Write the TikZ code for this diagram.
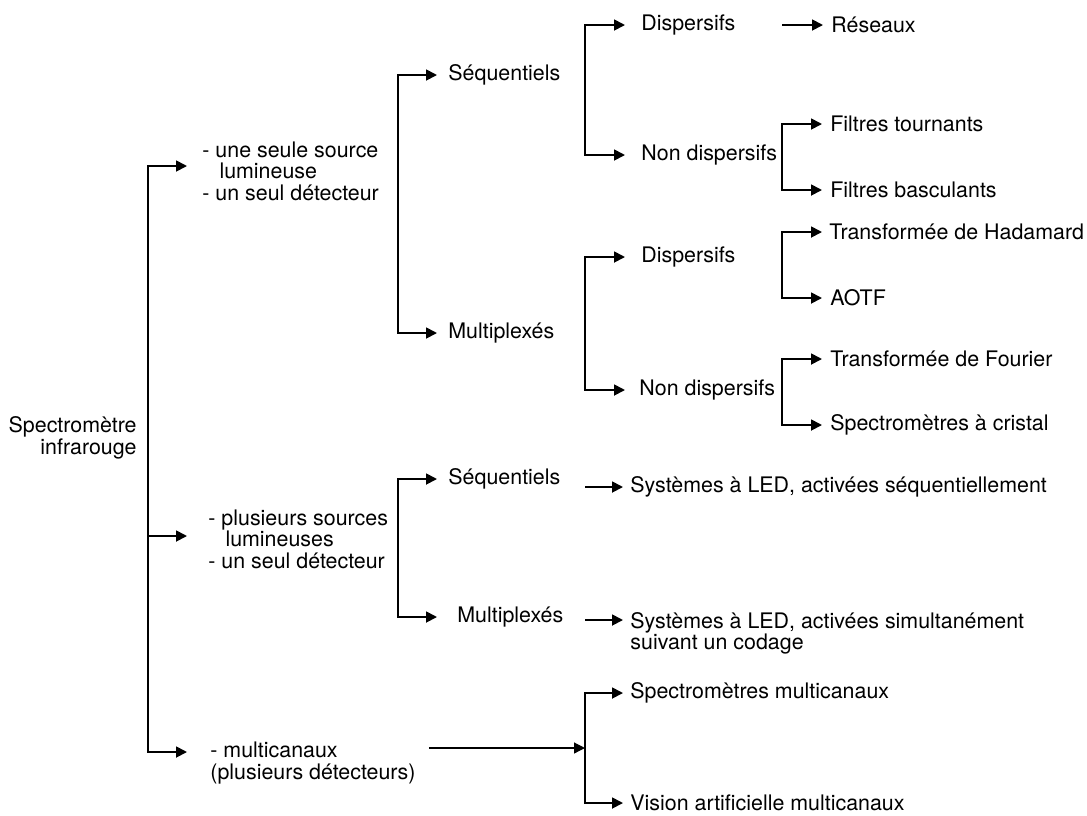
\documentclass[tikz,border=0pt]{standalone}
\usepackage{fontspec}
\setmainfont{TeX Gyre Heros}
\usetikzlibrary{arrows.meta}

\begin{document}
\begin{tikzpicture}[
    x=0.5pt, y=-0.5pt,
    entry/.style={
        anchor=west, inner xsep=#1, inner ysep=0pt,
        align=left, font=\fontsize{10.7}{10.7}\selectfont
    },
    entry/.default=4pt,
    arr/.style={-{Triangle[length=5.5pt, width=5.5pt]}, line width=0.9pt},
    thinarr/.style={arr, line width=0.6pt}
]
\useasboundingbox (0,0) rectangle (1087,815);

%% Root
\node[entry=0pt, anchor=east, align=right] (root) at (137,438)
    {Spectromètre\\infrarouge};
\coordinate (bRoot) at (148,438);

%% First level
\node[entry=7.5pt] (src1) at (187,171)
    {- une seule source\\\hspace*{0.8em}lumineuse\\- un seul détecteur};
\node[entry=10.5pt] (src2) at (187,539)
    {- plusieurs sources\\\hspace*{0.8em}lumineuses\\- un seul détecteur};
\node[entry=11.5pt] (multi) at (187,763)
    {- multicanaux\\(plusieurs détecteurs)};

\draw[arr] (bRoot) |- ([yshift=2.5pt]src1.west);
\draw[arr] (bRoot) |- ([yshift=1.5pt]src2.west);
\draw[arr] (bRoot) |- ([yshift=5.5pt]multi.west);

%% Second level
\coordinate (bSrc1) at (398,204);
\node[entry=5.5pt] (seq1) at (437,75) {Séquentiels};
\node[entry=5.5pt] (mul1) at (437,333) {Multiplexés};
\draw[arr] (bSrc1) |- (seq1.west);
\draw[arr] (bSrc1) |- (mul1.west);

\coordinate (bSrc2) at (398,548);
\node[entry=5.5pt] (seq2) at (437,479) {Séquentiels};
\node[entry=10pt] (mul2) at (437,617) {Multiplexés};
\draw[arr] (bSrc2) |- (seq2.west);
\draw[arr] (bSrc2) |- (mul2.west);

%% Third level
\coordinate (bSeq1) at (585,90);
\node[entry=8pt] (dis1) at (625,25) {Dispersifs};
\node[entry=8pt] (nd1) at (625,155) {Non dispersifs};
\draw[arr] (bSeq1) |- (dis1.west);
\draw[arr] (bSeq1) |- (nd1.west);

\coordinate (bMul1) at (585,323);
\node[entry=8pt] (dis2) at (625,257) {Dispersifs};
\node[entry=7pt] (nd2) at (625,390) {Non dispersifs};
\draw[arr] (bMul1) |- (dis2.west);
\draw[arr] (bMul1) |- (nd2.west);

%% Fourth level
\coordinate (bRes) at (782,25);
\node[entry] (res) at (823,25) {Réseaux};
\draw[arr] (bRes) -- (res.west);

\coordinate (bNd1) at (782,157);
\node[entry] (ft) at (822,124) {Filtres tournants};
\node[entry] (fb) at (822,190) {Filtres basculants};
\draw[arr] (bNd1) |- (ft.west);
\draw[arr] (bNd1) |- (fb.west);

\coordinate (bDis2) at (782,265);
\node[entry=3.5pt] (th) at (822,232) {Transformée de Hadamard};
\node[entry] (ao) at (822,298) {AOTF};
\draw[arr] (bDis2) |- (th.west);
\draw[arr] (bDis2) |- (ao.west);

\coordinate (bNd2) at (782,392);
\node[entry] (tf) at (822,359) {Transformée de Fourier};
\node[entry] (sc) at (822,425) {Spectromètres à cristal};
\draw[arr] (bNd2) |- (tf.west);
\draw[arr] (bNd2) |- (sc.west);

%% LED systems
\coordinate (bLed1) at (585,487);
\node[entry=3.5pt] (led1) at (623,487)
    {Systèmes à LED, activées séquentiellement};
\draw[arr] (bLed1) -- (led1.west);

\coordinate (bLed2) at (585,620);
\node[entry=3.5pt] (led2) at (623,633.5)
    {Systèmes à LED, activées simultanément\\suivant un codage};
\draw[arr] (bLed2) -- ([yshift=6.75pt]led2.west);

%% Multichannel
\coordinate (bMulti) at (585,748);
\node[entry=3.5pt] (sm) at (623,693) {Spectromètres multicanaux};
\node[entry=3.5pt] (va) at (623,803) {Vision artificielle multicanaux};
\draw[thinarr, shorten <=-5pt] (multi.east |- bMulti) -- (bMulti);
\draw[arr] (bMulti) |- (sm.west);
\draw[arr] (bMulti) |- (va.west);

\end{tikzpicture}
\end{document}
